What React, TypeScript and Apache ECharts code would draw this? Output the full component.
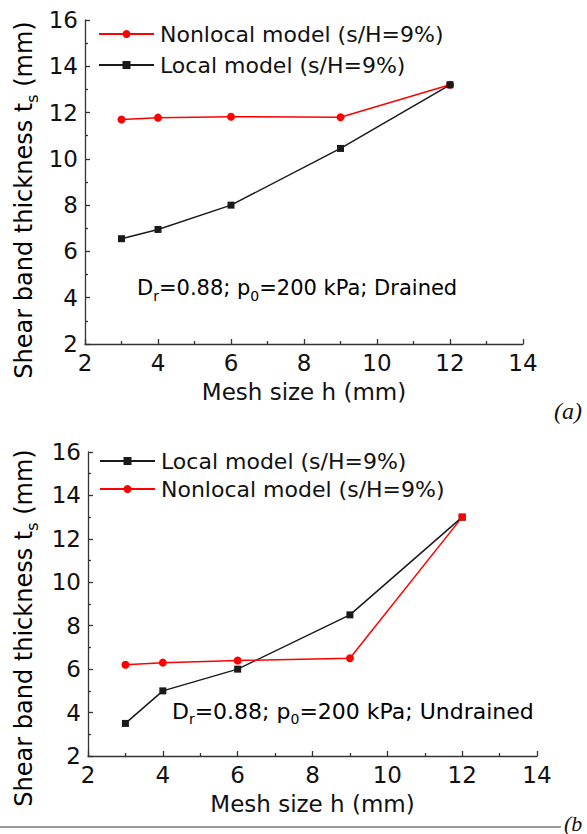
import React, { useEffect, useRef } from 'react';
import * as echarts from 'echarts';

// Mesh sizes h (mm)
const meshSizes = [3, 4, 6, 9, 12];
// (a) Drained
const drainedNonlocal = [11.7, 11.78, 11.82, 11.8, 13.2];
const drainedLocal = [6.55, 6.95, 8.0, 10.45, 13.2];
// (b) Undrained
const undrainedLocal = [3.5, 5.0, 6.0, 8.5, 13.0];
const undrainedNonlocal = [6.2, 6.3, 6.4, 6.5, 13.0];

const seriesNames = ['Nonlocal model (s/H=9%)', 'Local model (s/H=9%)'];
const xRange = [2, 14];
const yRange = [2, 16];
const tickStep = 2;

const FONT = 'DejaVu Sans';
const RED = '#ff0000';
const BLACK = '#1a1a1a';
const AXIS = '#333333';

const pairs = (vals: number[]) => meshSizes.map((x, i) => [x, vals[i]]);

function makeX(gridIndex: number) {
  return {
    gridIndex,
    type: 'value',
    min: xRange[0],
    max: xRange[1],
    interval: tickStep,
    axisLine: { show: true, onZero: false, lineStyle: { color: AXIS, width: 1.3 } },
    axisTick: { show: true, inside: true, length: 5, lineStyle: { color: AXIS, width: 1.3 } },
    minorTick: { show: true, splitNumber: 2, length: 3, lineStyle: { color: AXIS, width: 1.3 } },
    splitLine: { show: false },
    minorSplitLine: { show: false },
    axisLabel: { fontSize: 23, color: '#111', fontFamily: FONT, margin: 7 },
    name: 'Mesh size h (mm)',
    nameLocation: 'middle',
    nameGap: 36,
    nameTextStyle: { fontSize: 23, color: '#111', fontFamily: FONT },
  };
}

function makeY(gridIndex: number) {
  return {
    gridIndex,
    type: 'value',
    min: yRange[0],
    max: yRange[1],
    interval: tickStep,
    axisLine: { show: true, onZero: false, lineStyle: { color: AXIS, width: 1.3 } },
    axisTick: { show: true, inside: true, length: 5, lineStyle: { color: AXIS, width: 1.3 } },
    minorTick: { show: true, splitNumber: 2, length: 3, lineStyle: { color: AXIS, width: 1.3 } },
    splitLine: { show: false },
    minorSplitLine: { show: false },
    axisLabel: { fontSize: 23, color: '#111', fontFamily: FONT, margin: 7 },
  };
}

function lineSeries(name: string, data: any[], color: string, symbol: string, idx: number) {
  return {
    name,
    type: 'line',
    xAxisIndex: idx,
    yAxisIndex: idx,
    data,
    symbol,
    symbolSize: symbol === 'circle' ? 8 : 7,
    lineStyle: { color, width: 1.5 },
    itemStyle: { color },
    z: 3,
  };
}

const richLabel = (size: number) => ({
  a: { fontSize: size, fontFamily: FONT, color: '#111', lineHeight: size + 8 },
  b: { fontSize: Math.round(size * 0.65), fontFamily: FONT, color: '#111', lineHeight: Math.round(size * 0.65), verticalAlign: 'bottom' },
});

const legendBase = {
  orient: 'vertical',
  padding: 0,
  itemWidth: 55,
  itemHeight: 10,
  textStyle: { fontSize: 22, fontFamily: FONT, color: '#111', lineHeight: 24, padding: [0, 0, 0, 1] },
};

export default function App() {
  const ref = useRef<HTMLDivElement>(null);
  useEffect(() => {
    if (!ref.current) return;
    const chart = echarts.init(ref.current, undefined, { renderer: 'svg' });
    const option: any = {
      animation: false,
      backgroundColor: '#ffffff',
      grid: [
        { left: 85, top: 20, width: 438, height: 324 },
        { left: 88, top: 452, width: 449, height: 304 },
      ],
      xAxis: [makeX(0), makeX(1)],
      yAxis: [makeY(0), makeY(1)],
      legend: [
        {
          ...legendBase,
          data: [seriesNames[0], seriesNames[1]].map((n) => ({ name: n })),
          left: 98,
          top: 22,
          itemGap: 7,
        },
        {
          ...legendBase,
          data: [seriesNames[1] + ' ', seriesNames[0] + ' '].map((n) => ({ name: n })),
          left: 99,
          top: 449,
          itemGap: 4,
        },
      ],
      series: [
        lineSeries(seriesNames[0], pairs(drainedNonlocal), RED, 'circle', 0),
        lineSeries(seriesNames[1], pairs(drainedLocal), BLACK, 'rect', 0),
        lineSeries(seriesNames[1] + ' ', pairs(undrainedLocal), BLACK, 'rect', 1),
        lineSeries(
          seriesNames[0] + ' ',
          pairs(undrainedNonlocal).map((p, i) => (i === meshSizes.length - 1 ? { value: p, symbol: 'rect', symbolSize: 7 } : p)),
          RED,
          'circle',
          1
        ),
      ],
      graphic: [
        {
          type: 'text',
          x: 24,
          y: 200,
          rotation: Math.PI / 2,
          style: {
            text: '{a|Shear band thickness t}{b|s}{a| (mm)}',
            rich: richLabel(24),
            align: 'center',
            verticalAlign: 'middle',
          },
        },
        {
          type: 'text',
          x: 24,
          y: 628,
          rotation: Math.PI / 2,
          style: {
            text: '{a|Shear band thickness t}{b|s}{a| (mm)}',
            rich: richLabel(24),
            align: 'center',
            verticalAlign: 'middle',
          },
        },
        {
          type: 'text',
          x: 137,
          y: 288,
          style: {
            text: '{a|D}{b|r}{a|=0.88; p}{b|0}{a|=200 kPa; Drained}',
            rich: richLabel(21),
            align: 'left',
            verticalAlign: 'middle',
          },
        },
        {
          type: 'text',
          x: 172,
          y: 711,
          style: {
            text: '{a|D}{b|r}{a|=0.88; p}{b|0}{a|=200 kPa; Undrained}',
            rich: richLabel(22),
            align: 'left',
            verticalAlign: 'middle',
          },
        },
        {
          type: 'text',
          x: 554,
          y: 411,
          style: { text: '(a)', fontSize: 24, fontStyle: 'italic', fontFamily: 'Liberation Serif', fill: '#111', verticalAlign: 'middle' },
        },
        {
          type: 'text',
          x: 564,
          y: 823,
          style: { text: '(b', fontSize: 22, fontStyle: 'italic', fontFamily: 'Liberation Serif', fill: '#111', verticalAlign: 'middle' },
        },
        {
          type: 'line',
          shape: { x1: 0, y1: 827, x2: 561, y2: 827 },
          style: { stroke: '#777', lineWidth: 1.5 },
        },
      ],
    };
    chart.setOption(option);
    return () => chart.dispose();
  }, []);
  return <div ref={ref} style={{ position: 'absolute', left: 0, top: 0, width: 587, height: 834 }} />;
}
